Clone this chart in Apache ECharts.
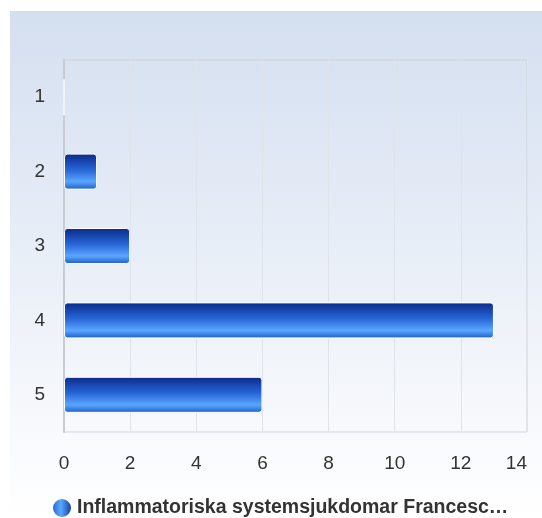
<!DOCTYPE html>
<html>
  <head>
    <meta charset="utf-8">
    <title>Inflammatoriska systemsjukdomar</title>
    <script src="https://cdn.jsdelivr.net/npm/echarts@6/dist/echarts.min.js"></script>
    <style>
      html, body { margin: 0; padding: 0; background: #fff; }
      #chart { width: 542px; height: 518px; }
    </style>
  </head>
  <body>
    <div id="chart"></div>
    <script>
      // data
      var categories = ['1', '2', '3', '4', '5'];
      var values = [0, 1, 2, 13, 6];
      var seriesName = 'Inflammatoriska systemsjukdomar Francesc\u2026';
      var xTicks = { min: 0, max: 14, interval: 2 };

      var barFill = new echarts.graphic.LinearGradient(0, 0, 0, 1, [
        { offset: 0, color: '#0a2a88' },
        { offset: 0.45, color: '#2765d6' },
        { offset: 0.78, color: '#5aa6ff' },
        { offset: 1, color: '#1d5cc6' }
      ]);

      var chart = echarts.init(document.getElementById('chart'));
      chart.setOption({
        animation: false,
        textStyle: { fontFamily: 'Liberation Sans, Arial, sans-serif' },
        graphic: [{
          type: 'rect',
          z: -10,
          silent: true,
          shape: { x: 10, y: 11, width: 532, height: 507 },
          style: {
            fill: new echarts.graphic.LinearGradient(0, 0, 0, 1, [
              { offset: 0, color: '#d4dff0' },
              { offset: 1, color: '#ffffff' }
            ])
          }
        }],
        grid: { left: 64, top: 60, width: 463, height: 372, containLabel: false, show: true, borderColor: '#cfd3d9', borderWidth: 1 },
        legend: {
          left: 46,
          top: 492,
          itemWidth: 20,
          itemHeight: 20,
          itemGap: 4,
          icon: 'circle',
          textStyle: { fontSize: 19.5, fontWeight: 'bold', color: '#333' },
          data: [{
            name: seriesName,
            itemStyle: {
              color: new echarts.graphic.LinearGradient(0, 0, 1, 0, [
                { offset: 0, color: '#1d5cc6' },
                { offset: 0.45, color: '#5aa6ff' },
                { offset: 1, color: '#0c2f8f' }
              ])
            }
          }]
        },
        xAxis: {
          type: 'value',
          min: xTicks.min,
          max: xTicks.max,
          interval: xTicks.interval,
          axisLine: { show: false },
          axisTick: { show: false },
          axisLabel: { fontSize: 19, color: '#333', margin: 22, alignMaxLabel: 'right' },
          splitLine: { show: true, lineStyle: { color: '#dfe3ea', width: 1 } }
        },
        yAxis: {
          type: 'category',
          inverse: true,
          data: categories,
          axisLine: { show: true, lineStyle: { color: '#c8ccd2', width: 2 } },
          axisTick: { show: false },
          axisLabel: { fontSize: 19, color: '#333', margin: 19, padding: [6, 0, 0, 0] }
        },
        series: [{
          name: seriesName,
          type: 'bar',
          data: values,
          barWidth: 36,
          itemStyle: {
            color: barFill,
            borderColor: '#ffffff',
            borderWidth: 1,
            borderRadius: 3
          }
        }]
      });
    </script>
  </body>
</html>
